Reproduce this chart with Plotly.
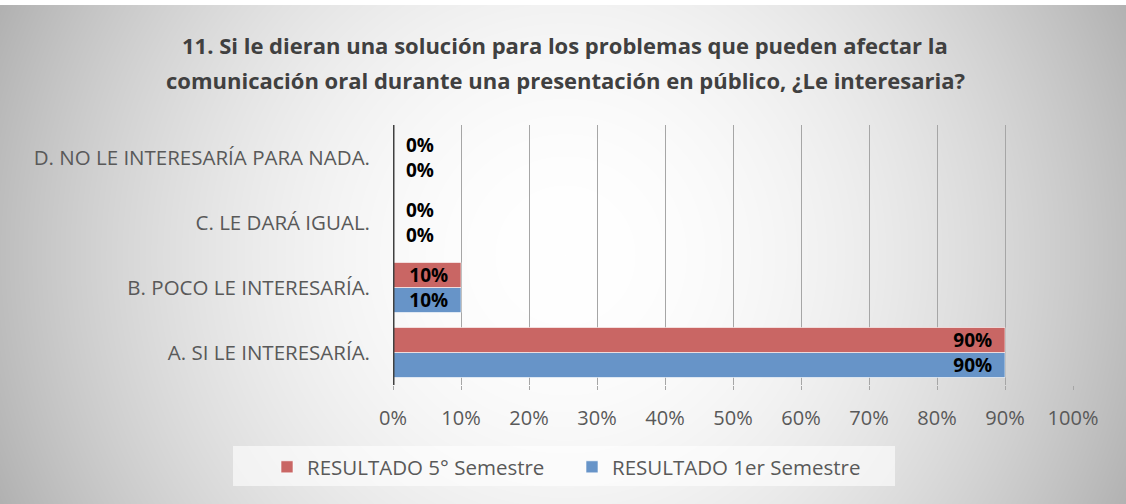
import base64
import struct
import zlib

import numpy as np
import plotly.graph_objects as go

# Datos
categorias = ["A. SI LE INTERESARÍA.", "B. POCO LE INTERESARÍA.",
              "C. LE DARÁ IGUAL.", "D. NO LE INTERESARÍA PARA NADA."]
quinto_sem = [0.90, 0.10, 0.0, 0.0]
primer_sem = [0.90, 0.10, 0.0, 0.0]
x_ticks = [0, 0.1, 0.2, 0.3, 0.4, 0.5, 0.6, 0.7, 0.8, 0.9, 1.0]
titulo = ["11. Si le dieran una solución para los problemas que pueden afectar la",
          "comunicación oral durante una presentación en público, ¿Le interesaria?"]

W, H = 1126, 504
ML, MR, MT, MB = 393, 53, 125, 119
FONT = "Open Sans"
NB = "\u00a0\u00a0"

pw = W - ML - MR
ph = H - MT - MB


def px_x(x):
    return (x - ML) / pw


def px_y(y):
    return 1 - (y - MT) / ph


def fondo_radial(w, h):
    # degradado radial gris -> blanco (fondo tipo Excel)
    yy, xx = np.mgrid[0:h, 0:w]
    d = np.sqrt((xx - 565) ** 2 + (yy - 255) ** 2) / 560.0
    v = np.clip(255 - 64 * d ** 2, 0, 255).astype(np.uint8)
    v[:5, :] = 255
    raw = b"".join(b"\x00" + v[i].tobytes() for i in range(h))

    def chunk(tag, data):
        c = struct.pack(">I", len(data)) + tag + data
        return c + struct.pack(">I", zlib.crc32(tag + data) & 0xFFFFFFFF)

    png = b"\x89PNG\r\n\x1a\n"
    png += chunk(b"IHDR", struct.pack(">IIBBBBB", w, h, 8, 0, 0, 0, 0))
    png += chunk(b"IDAT", zlib.compress(raw, 9))
    png += chunk(b"IEND", b"")
    return "data:image/png;base64," + base64.b64encode(png).decode()


def pos_texto(vals):
    return ["inside" if v > 0 else "outside" for v in vals]


def plantilla(vals):
    return ["%{x:.0%}" + NB if v > 0 else NB + "%{x:.0%}" for v in vals]


fig = go.Figure()

fuente_barras = dict(family=FONT, size=19, color="black", weight="bold")

fig.add_trace(go.Bar(
    y=categorias, x=primer_sem, orientation="h",
    name="RESULTADO 1er Semestre",
    marker=dict(color="rgb(103,148,200)", line=dict(color="rgba(255,255,255,0.6)", width=1)),
    texttemplate=plantilla(primer_sem), textposition=pos_texto(primer_sem),
    insidetextanchor="end", cliponaxis=False, constraintext="none",
    textfont=fuente_barras,
))
fig.add_trace(go.Bar(
    y=categorias, x=quinto_sem, orientation="h",
    name="RESULTADO 5° Semestre",
    marker=dict(color="rgb(201,102,100)", line=dict(color="rgba(255,255,255,0.6)", width=1)),
    texttemplate=plantilla(quinto_sem), textposition=pos_texto(quinto_sem),
    insidetextanchor="end", cliponaxis=False, constraintext="none",
    textfont=fuente_barras,
))

# titulo en dos anotaciones para controlar el interlineado
anot = []
for linea, ypx in zip(titulo, [45, 80]):
    anot.append(dict(
        text=linea, xref="paper", yref="paper",
        x=px_x(565), y=px_y(ypx),
        xanchor="center", yanchor="middle", showarrow=False,
        font=dict(family=FONT, size=22, color="#404040", weight="bold"),
    ))

fig.update_layout(
    width=W, height=H,
    margin=dict(l=ML, r=MR, t=MT, b=MB, autoexpand=False),
    paper_bgcolor="white", plot_bgcolor="rgba(0,0,0,0)",
    barmode="group", bargap=0.23, bargroupgap=0.0,
    font=dict(family=FONT, color="#595959"),
    annotations=anot,
    xaxis=dict(
        range=[0, 1.0], tickvals=x_ticks, tickformat=".0%",
        showgrid=True, gridcolor="#a6a6a6", gridwidth=1,
        zeroline=False, showline=False, automargin=False,
        ticks="outside", ticklen=4, tickcolor="#a6a6a6",
        ticklabelstandoff=11,
        tickfont=dict(family=FONT, size=20, color="#595959"),
    ),
    yaxis=dict(
        showgrid=False, zeroline=False, automargin=False,
        showline=False, ticks="",
        ticklabelstandoff=22,
        tickfont=dict(family=FONT, size=20.5, color="#595959"),
    ),
    legend=dict(
        orientation="h", traceorder="reversed",
        x=px_x(267), xanchor="left", y=px_y(467), yanchor="middle",
        bgcolor="rgba(0,0,0,0)",
        font=dict(family=FONT, size=20.5, color="#595959"),
        itemwidth=30, entrywidth=260,
    ),
    images=[dict(
        source=fondo_radial(W, H), xref="paper", yref="paper",
        x=-ML / pw, y=1 + MT / ph, sizex=W / pw, sizey=H / ph,
        xanchor="left", yanchor="top", sizing="stretch", layer="below",
    )],
    shapes=[
        dict(type="line", xref="x", yref="paper", x0=0, x1=0, y0=0, y1=1,
             line=dict(color="#404040", width=3)),
        # caja clara de la leyenda
        dict(type="rect", xref="paper", yref="paper",
             x0=px_x(233), x1=px_x(895), y0=px_y(486), y1=px_y(446),
             fillcolor="rgba(255,255,255,0.6)", line=dict(width=0), layer="below"),
    ],
)

fig.write_html("out.html", config={"displayModeBar": False},
               post_script="document.body.style.margin='0';")
